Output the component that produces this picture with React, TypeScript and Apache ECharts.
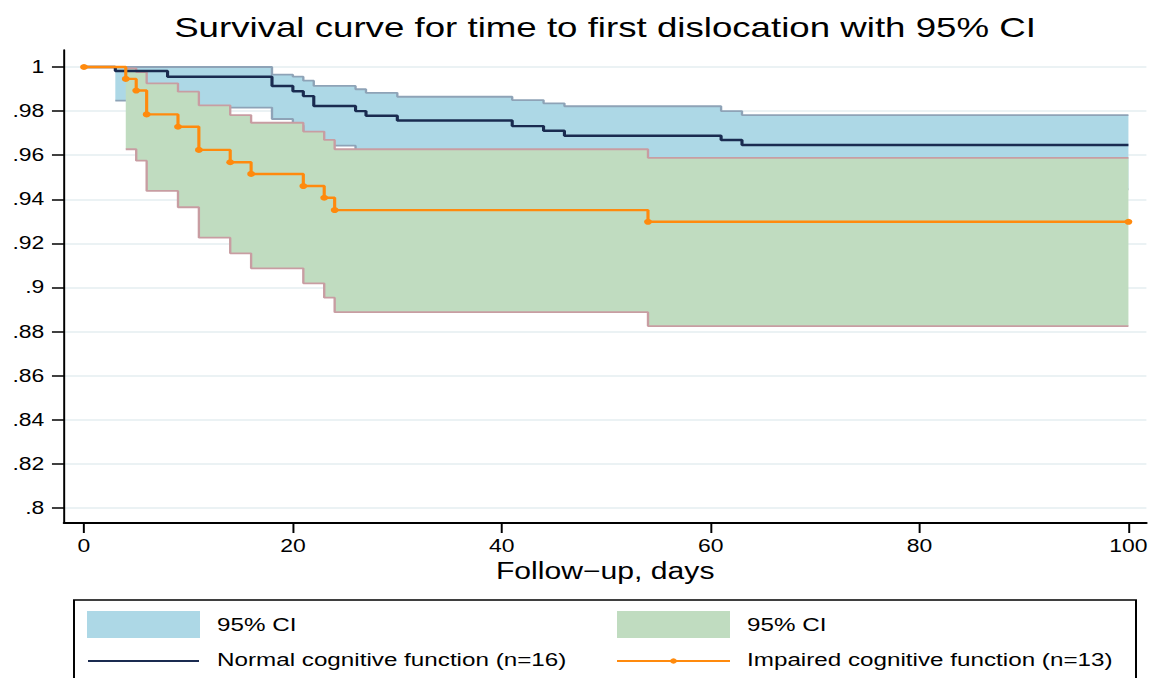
import React, { useEffect, useRef } from 'react';
import * as echarts from 'echarts';

// The reference is a horizontally stretched Stata export; we draw at a narrower
// width and stretch the whole chart with CSS so fonts and strokes match.
const S = 1.31;
const W = 1152 / S;
const FONT = '"Liberation Sans", Arial, Helvetica, sans-serif';

// ---- data ----
const xTicks = [0, 20, 40, 60, 80, 100];
const yTicks = [0.8, 0.82, 0.84, 0.86, 0.88, 0.9, 0.92, 0.94, 0.96, 0.98, 1];

const normalTimes = [0, 3, 8, 18, 20, 21, 22, 26, 27, 30, 41, 44, 46, 61, 63, 100];
const normalSurv = [1, 0.9982, 0.9956, 0.9914, 0.989, 0.9868, 0.9823, 0.98, 0.9779, 0.9757, 0.9732, 0.9711, 0.9688, 0.9669, 0.9646, 0.9646];
const normalCiTimes = [3, 8, 18, 20, 21, 22, 26, 27, 30, 41, 44, 46, 61, 63, 100];
const normalCiUpper = [1.0, 1.0, 0.9965, 0.9956, 0.9938, 0.9914, 0.9899, 0.9883, 0.9865, 0.985, 0.9835, 0.9822, 0.98, 0.9782, 0.9782];
const normalCiLower = [0.9847, 0.9816, 0.9764, 0.9735, 0.969, 0.9643, 0.96, 0.9585, 0.9565, 0.954, 0.9515, 0.949, 0.947, 0.9445, 0.9445];

const impairedTimes = [0, 4, 5, 6, 9, 11, 14, 16, 21, 23, 24, 54, 100];
const impairedSurv = [1, 0.9946, 0.9893, 0.9785, 0.9729, 0.9624, 0.9568, 0.9515, 0.946, 0.9407, 0.9351, 0.9298, 0.9298];
const impairedCiTimes = [4, 5, 6, 9, 11, 14, 16, 21, 23, 24, 54, 100];
const impairedCiUpper = [0.9994, 0.9977, 0.9926, 0.9888, 0.9826, 0.9782, 0.9747, 0.9707, 0.9669, 0.9627, 0.9588, 0.9588];
const impairedCiLower = [0.9627, 0.9575, 0.9438, 0.9364, 0.9226, 0.9155, 0.9087, 0.9019, 0.8954, 0.8888, 0.8825, 0.8825];

const titleText = 'Survival curve for time to first dislocation with 95% CI';
const xAxisTitle = 'Follow\u2212up, days';
const ciLabel = '95% CI';
const normalLabel = 'Normal cognitive function (n=16)';
const impairedLabel = 'Impaired cognitive function (n=13)';

// ---- colours ----
const BLUE_FILL = '#add8e6';
const BLUE_EDGE = '#8ea3b7';
const GREEN_FILL = '#c0dcc0';
const GREEN_EDGE = '#c89da2';
const NAVY = '#1a2b50';
const ORANGE = '#ff8a0d';

const pairs = (t: number[], v: number[]) => t.map((x, i) => [x, v[i]]);

// Step-shaped confidence band drawn as one polygon through the axes' scales.
function bandArea(times: number[], lower: number[], upper: number[], fill: string, z: number) {
  return {
    type: 'custom',
    silent: true,
    z,
    data: times.map((t, i) => [t, lower[i], upper[i]]),
    encode: { x: 0, y: [1, 2] },
    renderItem: (params: any, api: any) => {
      if (params.dataIndex !== 0) return null;
      const n = times.length;
      const pts: number[][] = [];
      for (let i = 0; i < n; i++) {
        pts.push(api.coord([times[i], upper[i]]));
        if (i < n - 1) pts.push(api.coord([times[i + 1], upper[i]]));
      }
      for (let i = n - 1; i >= 0; i--) {
        if (i < n - 1) pts.push(api.coord([times[i + 1], lower[i]]));
        pts.push(api.coord([times[i], lower[i]]));
      }
      return { type: 'polygon', shape: { points: pts }, style: { fill, stroke: null } };
    },
  };
}

function bandEdge(times: number[], values: number[], edge: string, z: number) {
  return {
    type: 'line', step: 'end', silent: true, symbol: 'none', z,
    data: pairs(times, values),
    lineStyle: { color: edge, width: 1.8 },
  };
}

const yFormatter = (v: number) => String(Math.round(v * 100) / 100).replace(/^0\./, '.');

const option: any = {
  animation: false,
  backgroundColor: '#ffffff',
  grid: { left: 64 / S, right: W - 1147 / S, top: 50, bottom: 155 },
  xAxis: {
    type: 'value',
    min: -1.914,
    max: 101.72,
    name: xAxisTitle,
    nameLocation: 'middle',
    nameGap: 36,
    nameTextStyle: { fontFamily: FONT, fontSize: 23, color: '#000' },
    axisLine: { show: true, onZero: false, lineStyle: { color: '#000', width: 2 } },
    axisTick: { show: true, length: 10, customValues: xTicks, lineStyle: { color: '#000', width: 1.5 } },
    axisLabel: { customValues: xTicks, fontFamily: FONT, fontSize: 17.5, color: '#000', margin: 14 },
    splitLine: { show: false },
  },
  yAxis: {
    type: 'value',
    min: 0.7932,
    max: 1.0077,
    axisLine: { show: true, onZero: false, lineStyle: { color: '#000', width: 1.5 } },
    axisTick: { show: true, length: 9.2, customValues: yTicks, lineStyle: { color: '#000', width: 1.5 } },
    axisLabel: { customValues: yTicks, formatter: yFormatter, fontFamily: FONT, fontSize: 17.5, color: '#000', margin: 15 },
    splitLine: { show: true, lineStyle: { color: '#e4eef1', width: 1.5 } },
  },
  series: [
    bandArea(normalCiTimes, normalCiLower, normalCiUpper, BLUE_FILL, 1),
    bandEdge(normalCiTimes, normalCiUpper, BLUE_EDGE, 1.1),
    bandEdge(normalCiTimes, normalCiLower, BLUE_EDGE, 1.1),
    bandArea(impairedCiTimes, impairedCiLower, impairedCiUpper, GREEN_FILL, 1.2),
    bandEdge(impairedCiTimes, impairedCiUpper, GREEN_EDGE, 1.3),
    bandEdge(impairedCiTimes, impairedCiLower, GREEN_EDGE, 1.3),
    {
      name: normalLabel,
      type: 'line', step: 'end', silent: true, symbol: 'none', z: 2,
      data: pairs(normalTimes, normalSurv),
      lineStyle: { color: NAVY, width: 2.4 },
    },
    {
      name: impairedLabel,
      type: 'line', step: 'end', silent: true, z: 2.1,
      symbol: 'circle', symbolSize: 6, showSymbol: true, showAllSymbol: true,
      data: pairs(impairedTimes, impairedSurv),
      lineStyle: { color: ORANGE, width: 2.4 },
      itemStyle: { color: ORANGE },
    },
  ],
  graphic: [
    {
      type: 'text', x: 605 / S, y: 27, silent: true,
      style: { text: titleText, fontFamily: FONT, fontSize: 28, fill: '#000', textAlign: 'center', textVerticalAlign: 'middle' },
    },
    {
      type: 'rect', silent: true,
      shape: { x: 74 / S, y: 600, width: (1136 - 74) / S, height: 130 },
      style: { fill: 'none', stroke: '#000', lineWidth: 1.5 },
    },
    {
      type: 'rect', silent: true,
      shape: { x: 87 / S, y: 611, width: 113 / S, height: 27 },
      style: { fill: BLUE_FILL },
    },
    {
      type: 'text', x: 217 / S, y: 625, silent: true,
      style: { text: ciLabel, fontFamily: FONT, fontSize: 18.5, fill: '#000', textAlign: 'left', textVerticalAlign: 'middle' },
    },
    {
      type: 'line', silent: true,
      shape: { x1: 88 / S, y1: 661, x2: 199 / S, y2: 661 },
      style: { stroke: NAVY, lineWidth: 2 },
    },
    {
      type: 'text', x: 217 / S, y: 660, silent: true,
      style: { text: normalLabel, fontFamily: FONT, fontSize: 18.5, fill: '#000', textAlign: 'left', textVerticalAlign: 'middle' },
    },
    {
      type: 'rect', silent: true,
      shape: { x: 617 / S, y: 611, width: 113 / S, height: 27 },
      style: { fill: GREEN_FILL },
    },
    {
      type: 'text', x: 747 / S, y: 625, silent: true,
      style: { text: ciLabel, fontFamily: FONT, fontSize: 18.5, fill: '#000', textAlign: 'left', textVerticalAlign: 'middle' },
    },
    {
      type: 'line', silent: true,
      shape: { x1: 617 / S, y1: 661, x2: 730 / S, y2: 661 },
      style: { stroke: ORANGE, lineWidth: 2 },
    },
    {
      type: 'circle', silent: true,
      shape: { cx: 673.5 / S, cy: 661, r: 2.6 },
      style: { fill: ORANGE },
    },
    {
      type: 'text', x: 747 / S, y: 660, silent: true,
      style: { text: impairedLabel, fontFamily: FONT, fontSize: 18.5, fill: '#000', textAlign: 'left', textVerticalAlign: 'middle' },
    },
  ],
};

export default function App() {
  const ref = useRef<HTMLDivElement>(null);
  useEffect(() => {
    if (!ref.current) return;
    const chart = echarts.init(ref.current, undefined, { renderer: 'svg' });
    chart.setOption(option);
    return () => chart.dispose();
  }, []);
  return (
    <div style={{ position: 'fixed', left: 0, top: 0, width: 1152, height: 678, overflow: 'hidden', background: '#fff' }}>
      <div
        ref={ref}
        style={{ width: W, height: 678, transform: `scaleX(${S})`, transformOrigin: '0 0' }}
      />
    </div>
  );
}
